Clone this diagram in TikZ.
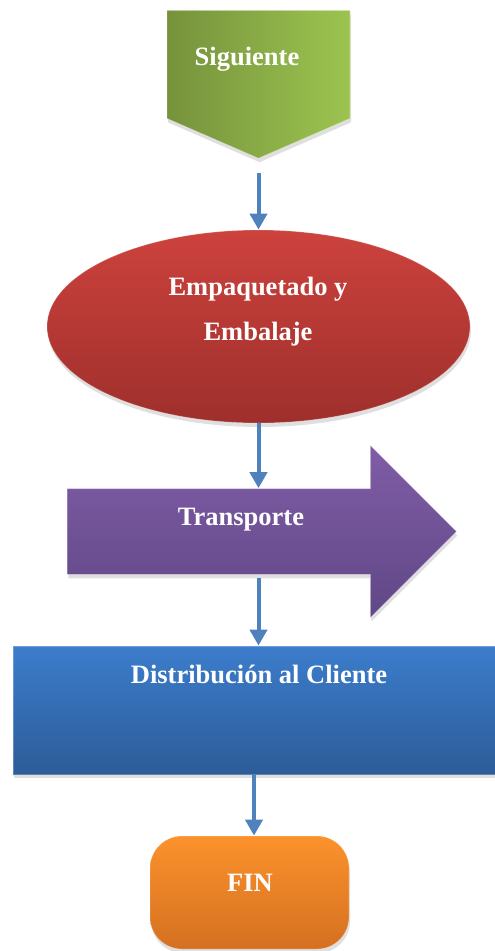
\documentclass[tikz,border=0pt]{standalone}
\usepackage{fontspec}
\setmainfont{Liberation Serif}
\usetikzlibrary{shapes.geometric,shapes.symbols,shapes.arrows,shadows,arrows.meta,positioning}

\definecolor{verdeOsc}{RGB}{118,146,60}
\definecolor{verdeCla}{RGB}{156,196,80}
\definecolor{rojoCla}{RGB}{205,66,61}
\definecolor{rojoOsc}{RGB}{158,47,44}
\definecolor{moradoCla}{RGB}{128,92,166}
\definecolor{moradoOsc}{RGB}{96,72,134}
\definecolor{azulCla}{RGB}{60,125,204}
\definecolor{azulOsc}{RGB}{44,92,152}
\definecolor{naranjaCla}{RGB}{252,146,44}
\definecolor{naranjaOsc}{RGB}{212,112,32}
\definecolor{azulFlecha}{RGB}{79,129,189}

\tikzset{
  caja/.style={inner sep=0pt, draw=white, draw opacity=0.25, line width=0.8pt,
    drop shadow={opacity=0.25, shadow xshift=1pt, shadow yshift=-4pt}},
  texto/.style={text=white, font=\fontsize{26.5}{30}\selectfont\bfseries, anchor=base, inner sep=0pt},
  flecha/.style={draw=azulFlecha, line width=4pt, -{Triangle[width=17pt,length=16pt]}},
}

\begin{document}
\begin{tikzpicture}[x=1pt,y=-1pt]
\useasboundingbox (0,0) rectangle (495,951);
% figuras
\node[caja, signal, signal to=south, signal pointer angle=133, minimum width=183pt, minimum height=108pt,
  left color=verdeOsc, right color=verdeCla, anchor=north] (siguiente) at (258.5,10) {};
\node[caja, ellipse, minimum width=423pt, minimum height=193pt,
  top color=rojoCla, bottom color=rojoOsc] (empaque) at (258.5,326.5) {};
\node[caja, single arrow, minimum height=389pt, minimum width=171pt, single arrow head extend=43pt, inner ysep=42.5pt,
  top color=moradoCla, bottom color=moradoOsc, anchor=tail] (transporte) at (67,531.5) {};
\node[caja, rectangle, minimum width=482pt, minimum height=128pt,
  top color=azulCla, bottom color=azulOsc] (distribucion) at (254,710) {};
\node[caja, rectangle, rounded corners=32pt, minimum width=199pt, minimum height=113pt,
  top color=naranjaCla, bottom color=naranjaOsc] (fin) at (249.5,892.5) {};
% textos
\node[texto] (siguiente-txt) at (247,65) {Siguiente};
\node[texto] (empaque-txt1) at (258,295) {Empaquetado y};
\node[texto] (empaque-txt2) at (258,340) {Embalaje};
\node[texto] (transporte-txt) at (241,525) {Transporte};
\node[texto] (distribucion-txt) at (259,683) {Distribución al Cliente};
\node[texto] (fin-txt) at (250,891) {FIN};
% flechas
\draw[flecha, shorten <=14pt] (siguiente.south) -- (empaque.north);
\draw[flecha] (empaque.south) -- (empaque.south |- transporte.north);
\draw[flecha, shorten <=3pt] (empaque.south |- transporte.south) -- (empaque.south |- distribucion.north);
\draw[flecha] (distribucion.south) -- (distribucion.south |- fin.north);
\end{tikzpicture}
\end{document}
